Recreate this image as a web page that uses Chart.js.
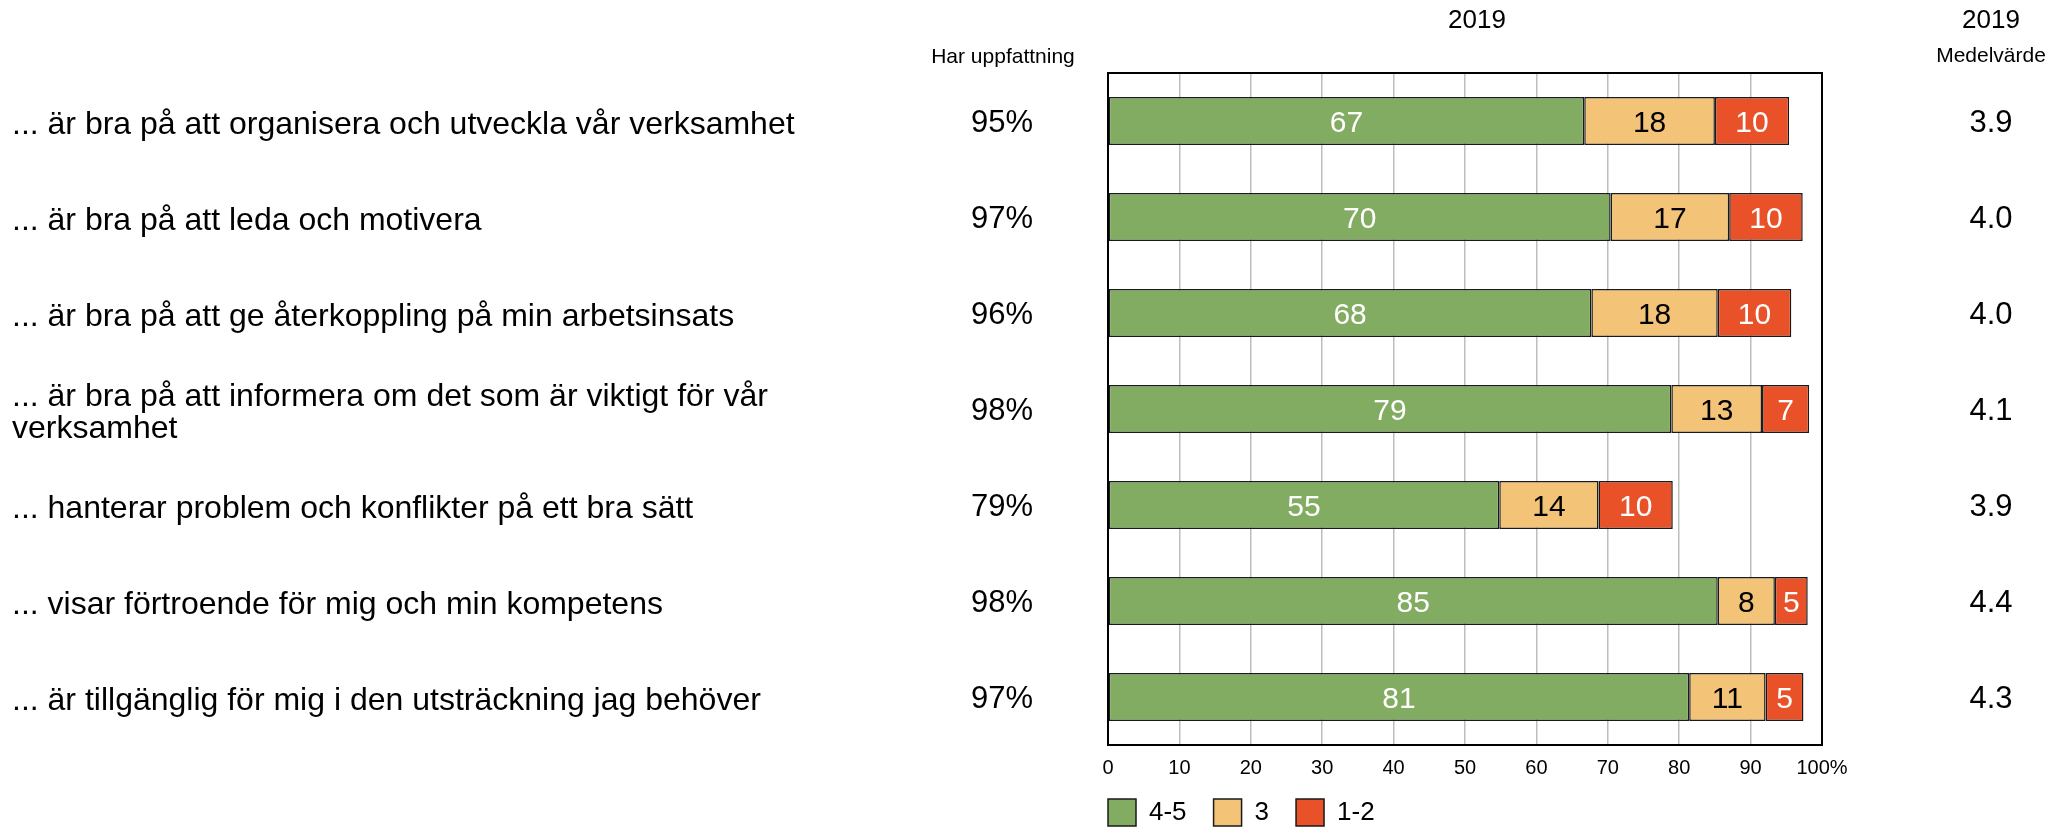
<!DOCTYPE html>
<html>
<head>
<meta charset="utf-8">
<script src="https://cdn.jsdelivr.net/npm/chart.js@4.4.1/dist/chart.umd.min.js"></script>
<style>
  html, body { margin: 0; padding: 0; background: #fff; }
  #wrap { width: 2069px; height: 827px; }
</style>
</head>
<body>
<div id="wrap"><canvas id="chart" width="2069" height="827"></canvas></div>
<script>
const categories = [
  '... är bra på att organisera och utveckla vår verksamhet',
  '... är bra på att leda och motivera',
  '... är bra på att ge återkoppling på min arbetsinsats',
  ['... är bra på att informera om det som är viktigt för vår', 'verksamhet'],
  '... hanterar problem och konflikter på ett bra sätt',
  '... visar förtroende för mig och min kompetens',
  '... är tillgänglig för mig i den utsträckning jag behöver'
];
const seriesNames = ['4-5', '3', '1-2'];
const high = [66.7, 70.4, 67.7, 78.9, 54.8, 85.4, 81.4];
const mid = [18.3, 16.6, 17.7, 12.7, 13.9, 8.0, 10.7];
const low = [10.4, 10.3, 10.3, 6.6, 10.4, 4.6, 5.3];
const share = [95, 97, 96, 98, 79, 98, 97];
const means = [3.9, 4.0, 4.0, 4.1, 3.9, 4.4, 4.3];
const xTicks = ['0', '10', '20', '30', '40', '50', '60', '70', '80', '90', '100%'];

const FONT = "'Liberation Sans', Arial, sans-serif";
const colors = ['#83AC63', '#F3C478', '#E95128'];
const labelColors = ['#fff', '#000', '#fff'];

// frame round the plot
const frame = {
  id: 'frame',
  afterDatasetsDraw(chart) {
    const {ctx, chartArea: a} = chart;
    ctx.save();
    ctx.strokeStyle = '#000';
    ctx.lineWidth = 2;
    ctx.strokeRect(a.left, a.top, a.right - a.left, a.bottom - a.top);
    ctx.restore();
  }
};

// numbers inside the bars
const barLabels = {
  id: 'barLabels',
  afterDatasetsDraw(chart) {
    const ctx = chart.ctx;
    ctx.save();
    ctx.font = `30px ${FONT}`;
    ctx.textAlign = 'center';
    ctx.textBaseline = 'alphabetic';
    chart.data.datasets.forEach((ds, di) => {
      const meta = chart.getDatasetMeta(di);
      ctx.fillStyle = labelColors[di];
      meta.data.forEach((bar, i) => {
        const cx = (bar.x + bar.base) / 2;
        ctx.fillText(Math.round(ds.data[i]), cx, bar.y + 11);
      });
    });
    ctx.restore();
  }
};

// headers and the two side columns
const sideColumns = {
  id: 'sideColumns',
  afterDraw(chart) {
    const {ctx, scales: {y}} = chart;
    ctx.save();
    ctx.fillStyle = '#000';
    ctx.textAlign = 'center';
    ctx.textBaseline = 'alphabetic';
    ctx.font = `21px ${FONT}`;
    ctx.fillText('Har uppfattning', 1003, 63);
    ctx.fillText('Medelvärde', 1991, 62);
    ctx.font = `26px ${FONT}`;
    ctx.fillText('2019', 1477, 28);
    ctx.fillText('2019', 1991, 28);
    ctx.font = `31px ${FONT}`;
    categories.forEach((c, i) => {
      const py = y.getPixelForValue(i);
      ctx.fillText(share[i] + '%', 1002, py + 11);
      ctx.fillText(means[i].toFixed(1), 1991, py + 11);
    });
    ctx.restore();
  }
};

// put the legend under the plot's left edge
const legendPlace = {
  id: 'legendPlace',
  beforeDraw(chart) {
    const lg = chart.legend;
    const pad = lg.options.labels.padding;
    lg.left = chart.chartArea.left - pad;
    lg.top = 799 - pad;
    lg.bottom = 827;
  }
};

new Chart(document.getElementById('chart'), {
  type: 'bar',
  data: {
    labels: categories,
    datasets: [high, mid, low].map((d, i) => ({
      label: seriesNames[i],
      data: d,
      backgroundColor: colors[i],
      borderColor: '#1a1a1a',
      borderWidth: 1.5,
      borderSkipped: false,
      barPercentage: 0.5,
      categoryPercentage: 1
    }))
  },
  options: {
    indexAxis: 'y',
    responsive: false,
    animation: false,
    layout: {padding: {left: 12, right: 247, top: 73, bottom: 0}},
    scales: {
      x: {
        stacked: true,
        min: 0,
        max: 100,
        ticks: {
          stepSize: 10,
          padding: 11,
          maxRotation: 0,
          color: '#000',
          font: {size: 20, family: FONT},
          callback: (v, i) => xTicks[i]
        },
        grid: {color: '#BEBEBE', lineWidth: 1.5, drawTicks: false},
        border: {display: false},
        afterFit: s => { s.height = 40; }
      },
      y: {
        stacked: true,
        ticks: {
          crossAlign: 'far',
          padding: 0,
          labelOffset: 4,
          autoSkip: false,
          color: '#000',
          font: {size: 32, family: FONT, lineHeight: 1.0}
        },
        grid: {display: false},
        border: {display: false},
        afterFit: s => { s.width = 1096; }
      }
    },
    plugins: {
      legend: {
        position: 'bottom',
        align: 'start',
        fullSize: false,
        maxHeight: 42,
        labels: {
          boxWidth: 28,
          boxHeight: 27,
          padding: 27,
          color: '#000',
          font: {size: 26, family: FONT}
        }
      },
      tooltip: {enabled: false}
    }
  },
  plugins: [frame, barLabels, sideColumns, legendPlace]
});
</script>
</body>
</html>
